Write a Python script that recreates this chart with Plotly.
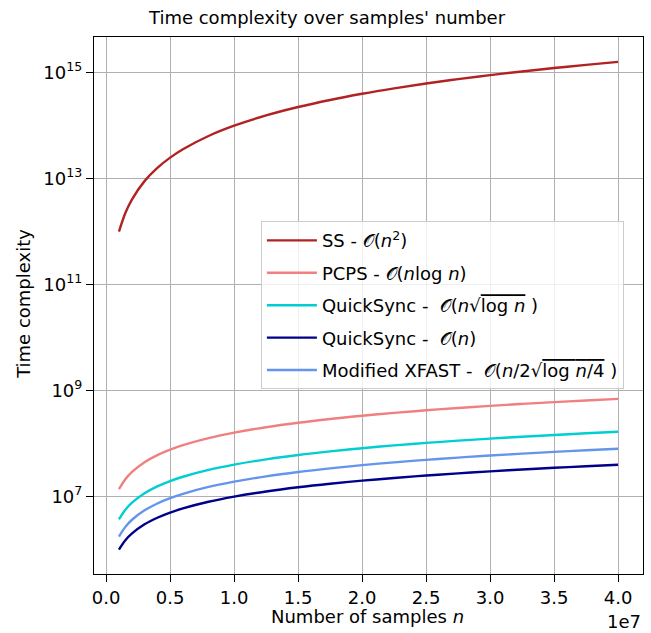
import plotly.graph_objects as go

# Number of samples n
n_samples = [1.0e6, 1.5e6, 2.0e6, 3.0e6, 4.0e6, 5.0e6, 6.0e6, 8.0e6, 1.0e7, 1.25e7,
             1.5e7, 1.75e7, 2.0e7, 2.25e7, 2.5e7, 2.75e7, 3.0e7, 3.25e7, 3.5e7, 3.75e7, 4.0e7]

ss_vals = [1.0e12, 2.25e12, 4.0e12, 9.0e12, 1.6e13, 2.5e13, 3.6e13, 6.4e13, 1.0e14, 1.5625e14,
           2.25e14, 3.0625e14, 4.0e14, 5.0625e14, 6.25e14, 7.5625e14, 9.0e14, 1.05625e15,
           1.225e15, 1.40625e15, 1.6e15]

pcps_vals = [1.382e7, 2.133e7, 2.902e7, 4.474e7, 6.081e7, 7.712e7, 9.364e7, 1.2716e8,
             1.6118e8, 2.0427e8, 2.4785e8, 2.9186e8, 3.3622e8, 3.8090e8, 4.2586e8,
             4.7107e8, 5.1650e8, 5.6215e8, 6.0798e8, 6.5400e8, 7.0018e8]

qs_sqrt_vals = [3.717e6, 5.657e6, 7.618e6, 1.1586e7, 1.5596e7, 1.9637e7, 2.3704e7, 3.1895e7,
                4.0147e7, 5.053e7, 6.0974e7, 7.1467e7, 8.2002e7, 9.2576e7, 1.03183e8,
                1.13817e8, 1.24479e8, 1.35164e8, 1.45873e8, 1.56604e8, 1.67352e8]

qs_n_vals = [1.0e6, 1.5e6, 2.0e6, 3.0e6, 4.0e6, 5.0e6, 6.0e6, 8.0e6, 1.0e7, 1.25e7,
             1.5e7, 1.75e7, 2.0e7, 2.25e7, 2.5e7, 2.75e7, 3.0e7, 3.25e7, 3.5e7, 3.75e7, 4.0e7]

xfast_vals = [1.7628e6, 2.6869e6, 3.6225e6, 5.517e6, 7.4338e6, 9.367e6, 1.13133e7, 1.5236e7,
              1.9191e7, 2.4170e7, 2.9180e7, 3.4216e7, 3.9274e7, 4.4352e7, 4.9447e7,
              5.4557e7, 5.9681e7, 6.4818e7, 6.9967e7, 7.5126e7, 8.0294e7]

x_tick_vals = [0, 5e6, 1e7, 1.5e7, 2e7, 2.5e7, 3e7, 3.5e7, 4e7]
x_tick_text = ["0.0", "0.5", "1.0", "1.5", "2.0", "2.5", "3.0", "3.5", "4.0"]
y_tick_vals = [1e7, 1e9, 1e11, 1e13, 1e15]
y_tick_text = ["10<sup>7</sup>", "10<sup>9</sup>", "10<sup>11</sup>", "10<sup>13</sup>", "10<sup>15</sup>"]

OV = "<span style='text-decoration:overline'>"
series = [
    ("SS - 𝒪(<i>n</i><sup>2</sup>)", ss_vals, "#b22222"),
    ("PCPS - 𝒪(<i>n</i>log <i>n</i>)", pcps_vals, "#f08080"),
    ("QuickSync -  𝒪(<i>n</i>√" + OV + "log <i>n</i></span> )", qs_sqrt_vals, "#00ced1"),
    ("QuickSync -  𝒪(<i>n</i>)", qs_n_vals, "#00008b"),
    ("Modified XFAST -  𝒪(<i>n</i>/2√" + OV + "log <i>n</i>/4</span> )", xfast_vals, "#6495ed"),
]

fig = go.Figure()
for i, (name, vals, color) in enumerate(series):
    fig.add_trace(go.Scatter(
        x=n_samples, y=vals, mode="lines", name=name,
        line=dict(color=color, width=2.4, shape="spline"),
        legendgroup=f"g{i}",
    ))

font_family = "DejaVu Sans, Verdana, sans-serif"
axis_common = dict(
    showgrid=True, gridcolor="#b0b0b0", gridwidth=1,
    showline=True, linecolor="black", linewidth=1.2, mirror=True,
    ticks="outside", ticklen=7, tickcolor="black", tickwidth=1.2,
    zeroline=False, automargin=False, tickfont=dict(size=18),
)
fig.update_layout(
    width=651, height=633,
    margin=dict(l=94, r=8, t=37, b=59),
    paper_bgcolor="white", plot_bgcolor="white",
    font=dict(family=font_family, size=18, color="black"),
    title=dict(text="Time complexity over samples' number", x=327 / 651, xref="container",
               xanchor="center", y=1 - 18 / 633, yanchor="middle", font=dict(size=18)),
    legend=dict(x=0.304, y=0.657, xanchor="left", yanchor="top",
                bgcolor="rgba(255,255,255,0.8)", bordercolor="#cccccc", borderwidth=1,
                font=dict(size=18), tracegroupgap=6, traceorder="grouped", itemwidth=50),
    xaxis=dict(range=[-0.095e7, 4.195e7], tickvals=x_tick_vals, ticktext=x_tick_text,
               **axis_common),
    yaxis=dict(type="log", range=[5.54, 15.674], tickvals=y_tick_vals, ticktext=y_tick_text,
               **axis_common),
    annotations=[
        dict(text="1e7", xref="paper", yref="paper", x=1.0, y=-0.0893,
             xanchor="right", yanchor="middle", showarrow=False, font=dict(size=18)),
        dict(text="Number of samples <i>n</i>", xref="paper", yref="paper", x=0.498, y=-0.080,
             xanchor="center", yanchor="middle", showarrow=False, font=dict(size=18)),
        dict(text="Time complexity", xref="paper", yref="paper", x=-0.129, y=0.5034,
             xanchor="center", yanchor="middle", showarrow=False, textangle=-90,
             font=dict(size=18)),
    ],
)

fig.write_html("out.html", config={"displayModeBar": False},
               post_script="document.body.style.margin='0';")
